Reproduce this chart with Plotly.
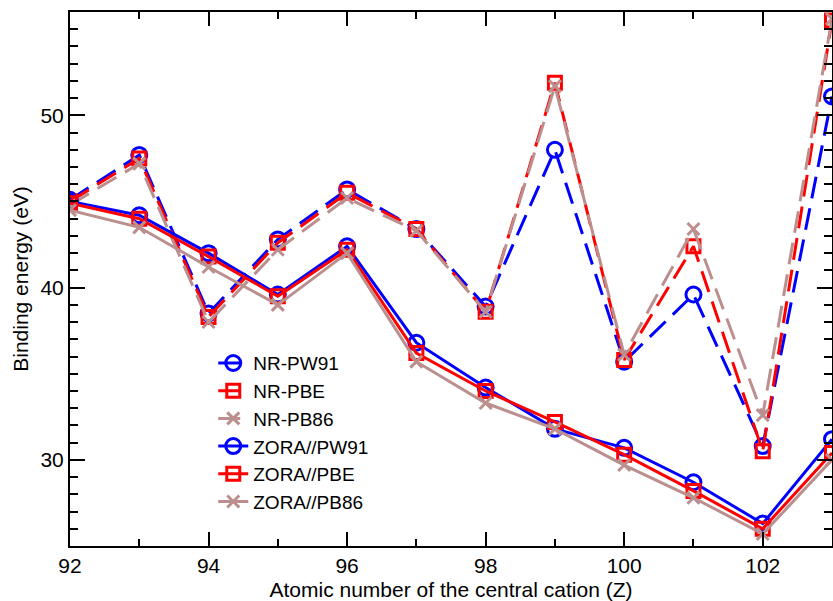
import plotly.graph_objects as go

Z = [92, 93, 94, 95, 96, 97, 98, 99, 100, 101, 102, 103]
nr_pw91 = [45.1, 47.7, 38.5, 42.8, 45.7, 43.4, 38.9, 48.0, 35.7, 39.6, 30.8, 51.1]
nr_pbe = [45.0, 47.5, 38.3, 42.6, 45.5, 43.4, 38.6, 51.9, 35.8, 42.4, 30.5, 55.5]
nr_pb86 = [44.8, 47.2, 38.0, 42.2, 45.2, 43.3, 38.6, 51.7, 36.1, 43.4, 32.6, 55.6]
zora_pw91 = [45.0, 44.2, 42.0, 39.6, 42.4, 36.8, 34.2, 31.8, 30.7, 28.7, 26.3, 31.2]
zora_pbe = [44.9, 44.0, 41.8, 39.5, 42.2, 36.2, 34.0, 32.2, 30.3, 28.2, 26.0, 30.4]
zora_pb86 = [44.5, 43.5, 41.2, 39.0, 42.0, 35.7, 33.3, 31.8, 29.7, 27.8, 25.7, 30.0]

names = ["NR-PW91", "NR-PBE", "NR-PB86", "ZORA//PW91", "ZORA//PBE", "ZORA//PB86"]
series = [nr_pw91, nr_pbe, nr_pb86, zora_pw91, zora_pbe, zora_pb86]
colors = ["#0000FF", "#FF0000", "#BC8F8F"] * 2
symbols = ["circle-open", "square-open", "x-thin-open"] * 2
sizes = [15, 13, 12] * 2
dashes = ["22px,10px"] * 3 + ["solid"] * 3

fig = go.Figure()
for name, ys, c, s, sz, d in zip(names, series, colors, symbols, sizes, dashes):
    fig.add_trace(go.Scatter(
        x=Z, y=ys, name=name, mode="lines+markers",
        line=dict(color=c, width=3, dash=d),
        marker=dict(symbol=s, size=sz, color=c, line=dict(color=c, width=3)),
    ))

FONT = "Liberation Sans, Arial"
axis_common = dict(
    showline=True, linecolor="black", linewidth=2, mirror="ticks",
    ticks="inside", tickcolor="black", tickwidth=2,
    showgrid=False, zeroline=False,
    tickfont=dict(family=FONT, size=21, color="black"),
)

fig.update_xaxes(
    range=[92, 103], dtick=2, tick0=92, ticklen=14,
    minor=dict(dtick=1, ticklen=7, ticks="inside", tickcolor="black", tickwidth=2),
    title=dict(text="Atomic number of the central cation (Z)",
               font=dict(family=FONT, size=21, color="black"),
               standoff=6),
    **axis_common,
)
fig.update_yaxes(
    range=[25, 56], dtick=10, tick0=30, ticklen=15,
    minor=dict(dtick=1, ticklen=8, ticks="inside", tickcolor="black", tickwidth=2),
    title=dict(text="Binding energy (eV)",
               font=dict(family=FONT, size=21, color="black"),
               standoff=6),
    **axis_common,
)

fig.update_layout(
    width=833, height=601,
    margin=dict(l=70, r=1, t=12, b=55, autoexpand=False),
    plot_bgcolor="white", paper_bgcolor="white",
    font=dict(family=FONT, size=21, color="black"),
    legend=dict(
        x=0.188, y=0.378, xanchor="left", yanchor="top",
        bgcolor="rgba(0,0,0,0)", borderwidth=0,
        font=dict(family=FONT, size=19, color="black"),
        tracegroupgap=0,
    ),
    showlegend=True,
)

# remove the default page margin so the figure fills the window exactly
fig.write_html(
    "out.html",
    config={"displayModeBar": False},
    post_script="document.body.style.margin='0';document.body.style.overflow='hidden';",
)
